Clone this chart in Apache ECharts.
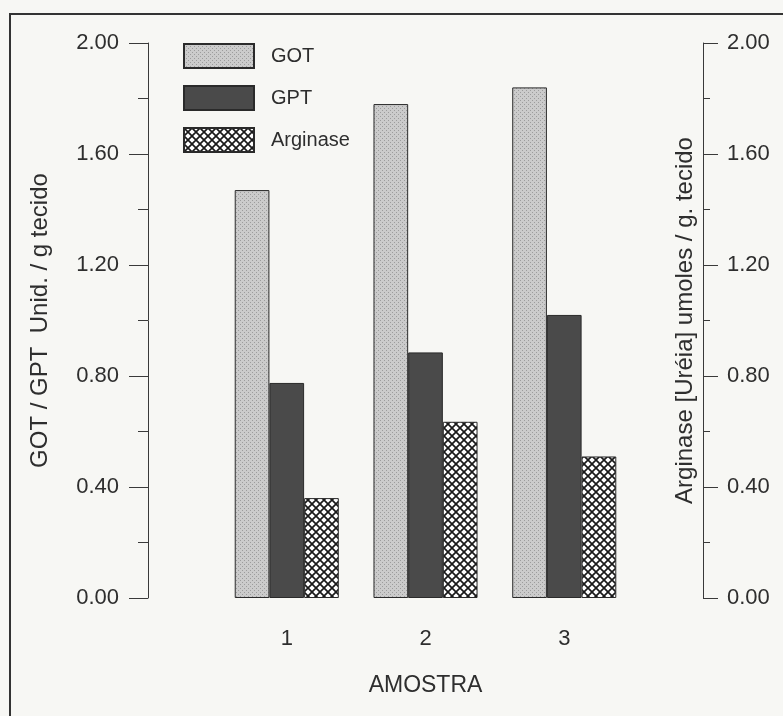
<!DOCTYPE html>
<html>
<head>
<meta charset="utf-8">
<script src="https://cdn.jsdelivr.net/npm/echarts@6/dist/echarts.min.js"></script>
<style>
  html, body { margin: 0; padding: 0; background: #f7f7f4; }
  #chart { width: 783px; height: 716px; }
</style>
</head>
<body>
<div id="chart"></div>
<script>
// valores
var amostras = ['1', '2', '3'];
var got = [1.47, 1.78, 1.84];
var gpt = [0.775, 0.885, 1.02];
var arginase = [0.36, 0.635, 0.51];
var yTicks = [0, 0.4, 0.8, 1.2, 1.6, 2.0];

var FONT = 'Liberation Sans';
var TXT = '#2e2e2e';

function pattern(w, h, draw) {
    var c = document.createElement('canvas');
    c.width = w; c.height = h;
    draw(c.getContext('2d'), w, h);
    return { image: c, repeat: 'repeat' };
}

// cinza pontilhado (GOT)
var gotFill = pattern(4, 4, function (ctx) {
    ctx.fillStyle = '#cbcbcb';
    ctx.fillRect(0, 0, 4, 4);
    ctx.fillStyle = '#9c9c9c';
    ctx.fillRect(0, 0, 1, 1);
    ctx.fillRect(2, 2, 1, 1);
});

// quadriculado diagonal (Arginase)
var argFill = pattern(8, 8, function (ctx, w, h) {
    ctx.fillStyle = '#ffffff';
    ctx.fillRect(0, 0, w, h);
    ctx.strokeStyle = '#1a1a1a';
    ctx.lineWidth = 1.7;
    [-w, 0, w].forEach(function (dx) {
        ctx.beginPath();
        ctx.moveTo(dx, 0); ctx.lineTo(dx + w, h);
        ctx.moveTo(dx + w, 0); ctx.lineTo(dx, h);
        ctx.stroke();
    });
});

// categoria vazia em cada ponta para deixar as amostras em 1..3 numa escala 0..4
var xCats = [''].concat(amostras).concat(['']);
function pad(arr) { return [null].concat(arr).concat([null]); }

var chart = echarts.init(document.getElementById('chart'));

var yBase = {
    type: 'value',
    min: yTicks[0],
    max: yTicks[yTicks.length - 1],
    interval: yTicks[1] - yTicks[0],
    nameLocation: 'middle',
    nameRotate: 90,
    nameMoveOverlap: false,
    nameTextStyle: { fontFamily: FONT, fontSize: 24, color: TXT },
    axisLine: { show: true, lineStyle: { color: '#3a3a3a', width: 1 } },
    splitLine: { show: false }
};

var option = {
    backgroundColor: '#f7f7f4',
    animation: false,
    grid: { left: 148, right: 80, top: 43, bottom: 118 },
    legend: {
        orient: 'vertical',
        left: 183,
        top: 43,
        padding: 0,
        itemWidth: 70,
        itemHeight: 24,
        itemGap: 16,
        icon: 'rect',
        data: ['GOT', 'GPT', 'Arginase'],
        textStyle: { fontFamily: FONT, fontSize: 20, color: TXT, padding: [0, 0, 0, 12] }
    },
    xAxis: {
        type: 'category',
        data: xCats,
        boundaryGap: false,
        name: 'AMOSTRA',
        nameLocation: 'middle',
        nameGap: 76,
        nameMoveOverlap: false,
        nameTextStyle: { fontFamily: FONT, fontSize: 23, color: TXT },
        axisLine: { show: false },
        axisTick: { show: false },
        axisLabel: { fontFamily: FONT, fontSize: 22, color: TXT, margin: 30 }
    },
    yAxis: [
        Object.assign({}, yBase, {
            position: 'left',
            name: 'GOT / GPT  Unid. / g tecido',
            nameGap: 96,
            axisTick: { show: true, length: 19, lineStyle: { color: '#3a3a3a' } },
            minorTick: { show: true, splitNumber: 2, length: 10, lineStyle: { color: '#3a3a3a' } },
            axisLabel: {
                fontFamily: FONT, fontSize: 22, color: TXT, margin: 29,
                formatter: function (v) { return v.toFixed(2); }
            }
        }),
        Object.assign({}, yBase, {
            position: 'right',
            name: 'Arginase [Uréia] umoles / g. tecido',
            nameGap: -30,
            axisTick: { show: true, length: 15, lineStyle: { color: '#3a3a3a' } },
            minorTick: { show: true, splitNumber: 2, length: 7, lineStyle: { color: '#3a3a3a' } },
            axisLabel: {
                fontFamily: FONT, fontSize: 22, color: TXT, margin: 24,
                formatter: function (v) { return v.toFixed(2); }
            }
        })
    ],
    series: [
        {
            name: 'GOT', type: 'bar', yAxisIndex: 0,
            barWidth: '25%', barGap: '0%',
            data: pad(got),
            itemStyle: { color: gotFill, borderColor: '#2a2a2a', borderWidth: 1 }
        },
        {
            name: 'GPT', type: 'bar', yAxisIndex: 0,
            barWidth: '25%', barGap: '0%',
            data: pad(gpt),
            itemStyle: { color: '#4a4a4a', borderColor: '#2a2a2a', borderWidth: 1 }
        },
        {
            name: 'Arginase', type: 'bar', yAxisIndex: 1,
            barWidth: '25%', barGap: '0%',
            data: pad(arginase),
            itemStyle: { color: argFill, borderColor: '#2a2a2a', borderWidth: 1 }
        }
    ],
    graphic: [
        {
            type: 'polyline',
            shape: { points: [[10, 716], [10, 14], [783, 14]] },
            style: { stroke: '#333', lineWidth: 2, fill: null }
        }
    ]
};

chart.setOption(option);
</script>
</body>
</html>
